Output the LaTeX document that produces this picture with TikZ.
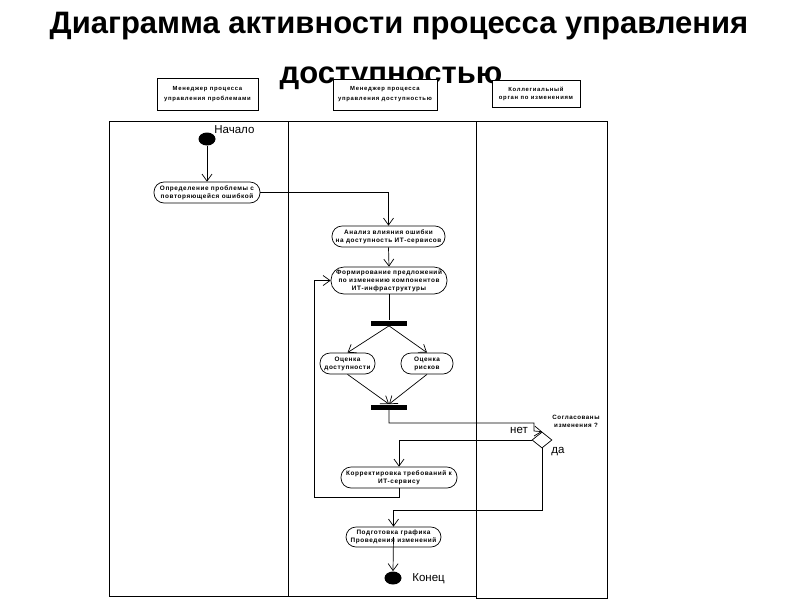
\documentclass[tikz,border=0pt]{standalone}
\usepackage{fontspec}
\setmainfont{Liberation Sans}
\newfontfamily\spacedfont[LetterSpace=9]{Liberation Sans}
\newfontfamily\widefont[LetterSpace=12]{Liberation Sans}
\usetikzlibrary{shapes.geometric,arrows.meta}
\begin{document}
\begin{tikzpicture}[x=1pt,y=-1pt,
  line width=0.7pt,
  act/.style={draw, rectangle, rounded corners=#1, inner sep=0pt, align=center,
    font=\spacedfont\fontsize{6.4}{8}\selectfont\bfseries, fill=white},
  act/.default=10pt,
  hdr/.style={draw, rectangle, inner sep=0pt, align=center, fill=white,
    font=\widefont\fontsize{5.9}{10}\selectfont\bfseries},
  bar/.style={fill=black, rectangle, inner sep=0pt, minimum width=36pt, minimum height=5pt},
  dot/.style={ellipse, fill=black, inner sep=0pt, minimum width=17pt, minimum height=13pt},
  lbl/.style={font=\fontsize{11.5}{13}\selectfont, inner sep=0pt},
  arr/.style={-{Straight Barb[length=7pt,width=10pt,line width=0.7pt]}}
]
\useasboundingbox (0,0) rectangle (800,600);
% title
\node[anchor=base, inner sep=0pt, font=\fontsize{31}{38}\selectfont\bfseries] (t1) at (399,33) {Диаграмма активности процесса управления};
\node[anchor=base, inner sep=0pt, font=\fontsize{31}{38}\selectfont\bfseries] (t2) at (391,83) {доступностью};
% header boxes
\node[hdr, minimum width=101pt, minimum height=32pt] (h1) at (207.5,94) {Менеджер процесса\\управления проблемами};
\node[hdr, minimum width=104pt, minimum height=31pt] (h2) at (385,94.5) {Менеджер процесса\\управления доступностью};
\node[hdr, minimum width=88pt, minimum height=27pt, font=\widefont\fontsize{5.9}{8}\selectfont\bfseries] (h3) at (536,93.5) {Коллегиальный\\орган по изменениям};
% swimlanes
\draw (109,121) rectangle (476,596);
\draw (288,121) -- (288,596);
\draw (476,121) rectangle (607,598);
% nodes
\node[dot] (start) at (207,139) {};
\node[lbl, anchor=west] (lstart) at (214,130) {Начало};
\node[act, minimum width=106pt, minimum height=21pt] (n1) at (207,192.5) {Определение проблемы с\\повторяющейся ошибкой};
\node[act, minimum width=113pt, minimum height=21pt] (n2) at (388.5,236.5) {Анализ влияния ошибки\\на доступность ИТ-сервисов};
\node[act=13pt, minimum width=116pt, minimum height=27pt] (n3) at (389,280.5) {Формирование предложений\\по изменению компонентов\\ИТ-инфраструктуры};
\node[bar] (fork) at (389,323) {};
\node[act, minimum width=55pt, minimum height=21pt] (n4) at (347.5,363.5) {Оценка\\доступности};
\node[act, minimum width=52pt, minimum height=21pt] (n5) at (427,363.5) {Оценка\\рисков};
\node[bar] (join) at (389,407) {};
\node[draw, diamond, fill=white, inner sep=0pt, minimum width=20pt, minimum height=16pt] (dia) at (542,440) {};
\node[align=center, inner sep=0pt, font=\spacedfont\fontsize{6.2}{8}\selectfont\bfseries] (q) at (576,421) {Согласованы\\изменения ?};
\node[lbl] (lno) at (519,430) {нет};
\node[lbl] (lyes) at (558,452) {да};
\node[act, minimum width=116pt, minimum height=21pt] (n6) at (399,477.5) {Корректировка требований к\\ИТ-сервису};
\node[act, minimum width=95pt, minimum height=20pt] (n7) at (393.5,537) {Подготовка графика\\Проведения изменений};
\node[dot] (end) at (393,578) {};
\node[lbl, anchor=west] (lend) at (412,579) {Конец};
% helper coordinates
\coordinate (c1) at (534,423);
\coordinate (c2) at (534,431);
\coordinate (c3) at (542,510);
\coordinate (c4) at (314,497);
% connectors
\draw[arr] (start) -- (n1);
\draw[arr] (n1.east) -| (n2.north);
\draw[arr] (n2.south) -- (n3.north);
\draw (n3.south) -- (fork.north);
\draw[arr] (fork.south) -- (n4.north);
\draw[arr] (fork.south) -- (n5.north);
\draw[arr] (n4.south) -- (join.north);
\draw[arr] (n5.south) -- (join.north);
\draw[arr] (join.south) |- (c1) -- (c2) -- (dia.north);
\draw[arr] (dia.west) -| (n6.north);
\draw[arr] (n6.south) |- (c4) |- (n3.west);
\draw[arr] (dia.south) -- (c3) -| (n7.north);
\draw[arr] (n7.center) -- (end.north);
\end{tikzpicture}
\end{document}
